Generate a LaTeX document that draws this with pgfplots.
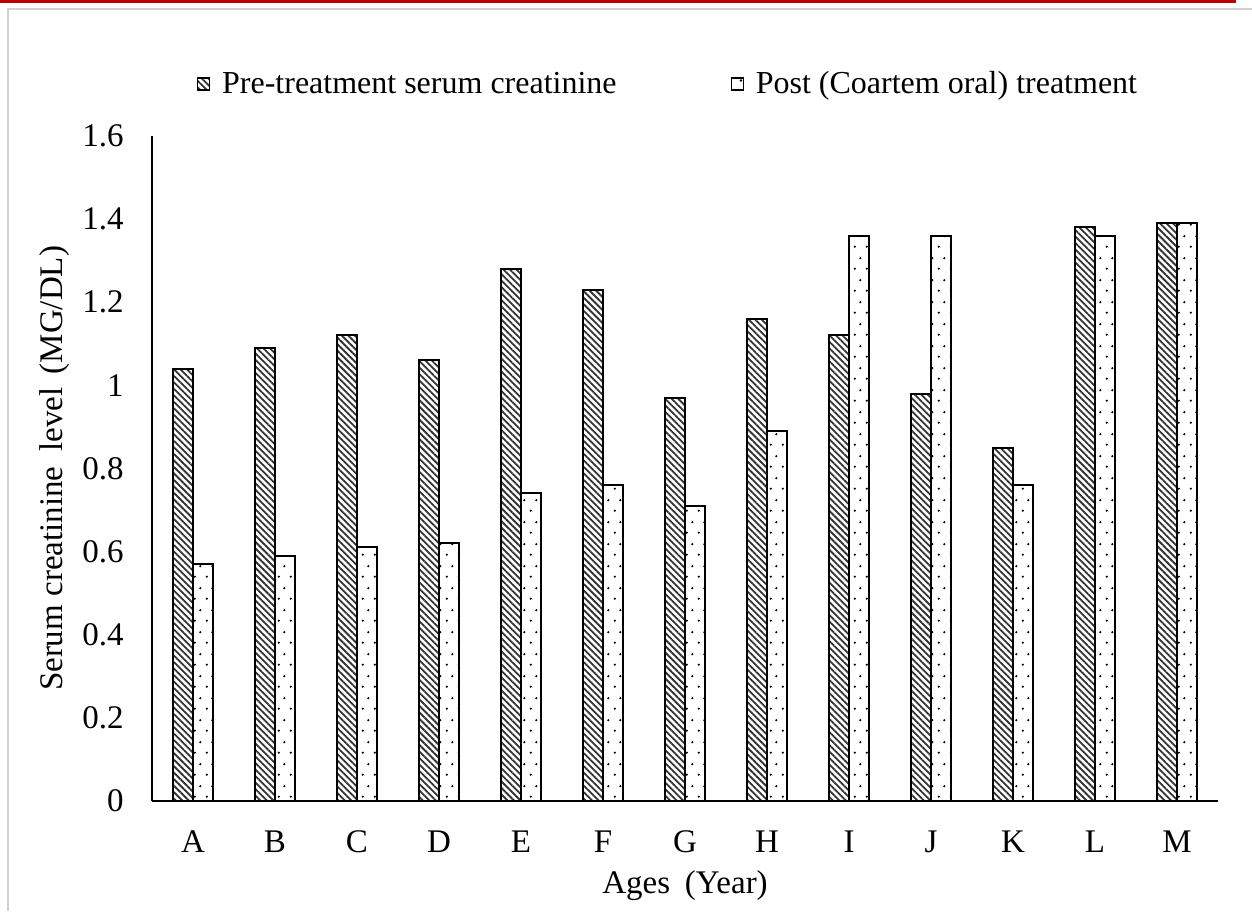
\documentclass[border=0pt]{standalone}
\usepackage{pgfplots}
\pgfplotsset{compat=1.18}
\usepackage{pgfplotstable}
\usepackage{fontspec}
\setmainfont{Liberation Serif}
\usetikzlibrary{patterns,patterns.meta}

% staggered sparse dots for the post-treatment bars
\pgfdeclarepatternformonly{sparsedots}{\pgfqpoint{0pt}{0pt}}{\pgfqpoint{6pt}{11pt}}{\pgfqpoint{6pt}{11pt}}{%
  \pgfpathcircle{\pgfqpoint{1.5pt}{2.75pt}}{0.65pt}%
  \pgfpathcircle{\pgfqpoint{4.5pt}{8.25pt}}{0.65pt}%
  \pgfusepath{fill}%
}

\pgfplotstableread{
x pre post
0  1.04 0.57
1  1.09 0.59
2  1.12 0.61
3  1.06 0.62
4  1.28 0.74
5  1.23 0.76
6  0.97 0.71
7  1.16 0.89
8  1.12 1.36
9  0.98 1.36
10 0.85 0.76
11 1.38 1.36
12 1.39 1.39
}\creatinine

\begin{document}
\begin{tikzpicture}[x=1pt,y=1pt]
  % page frame
  \path[use as bounding box] (0,0) rectangle (626,455.5);
  \fill[red!75!black] (0,454) rectangle (618,455.5);
  \draw[black!18, line width=0.6pt] (4,0) -- (4,451) -- (626,451);

  \begin{axis}[
    at={(76pt,55pt)}, anchor=south west,
    scale only axis, width=533pt, height=332.5pt,
    ybar=0pt, bar width=10pt,
    xmin=-0.5, xmax=12.5, ymin=0, ymax=1.6,
    axis x line*=bottom, axis y line*=left,
    axis line style={line width=1pt, -},
    major tick length=0pt,
    xtick=data,
    xticklabels={A,B,C,D,E,F,G,H,I,J,K,L,M},
    ytick={0,0.2,0.4,0.6,0.8,1,1.2,1.4,1.6},
    yticklabels={0,0.2,0.4,0.6,0.8,1,1.2,1.4,1.6},
    tick label style={font=\fontsize{16.5}{19}\selectfont},
    yticklabel style={anchor=east, inner sep=0pt, xshift=-14pt},
    xticklabel style={anchor=north, inner sep=0pt, yshift=-14.5pt},
    xlabel={Ages\hspace{0.2em} (Year)},
    ylabel={Serum creatinine\hspace{0.2em} level\hspace{0.15em} (MG/DL)},
    label style={font=\fontsize{16.5}{19}\selectfont},
    xlabel style={at={(axis description cs:0.5,0)}, anchor=base, yshift=-46pt},
    ylabel style={at={(axis description cs:-0.0844,0.5)}, anchor=base, rotate=0},
    legend columns=2,
    legend style={draw=none, fill=none,
      at={(axis description cs:0.485,1)}, anchor=center, yshift=26pt,
      font=\fontsize{16}{19}\selectfont,
      /tikz/every odd column/.append style={column sep=4pt},
      /tikz/every even column/.append style={column sep=55pt}},
    legend image code/.code={\draw[#1, line width=0.6pt] (0pt,-3pt) rectangle (6pt,3pt);},
  ]
    \addplot[draw=black, line width=1pt,
      pattern={Lines[angle=-45,distance=2.3pt,line width=0.9pt]}, pattern color=black!80]
      table[x=x, y=pre] {\creatinine};
    \addlegendentry{Pre-treatment serum creatinine}
    \addplot[draw=black, line width=1pt, pattern=sparsedots, pattern color=black]
      table[x=x, y=post] {\creatinine};
    \addlegendentry{Post (Coartem oral) treatment}
  \end{axis}
\end{tikzpicture}
\end{document}
